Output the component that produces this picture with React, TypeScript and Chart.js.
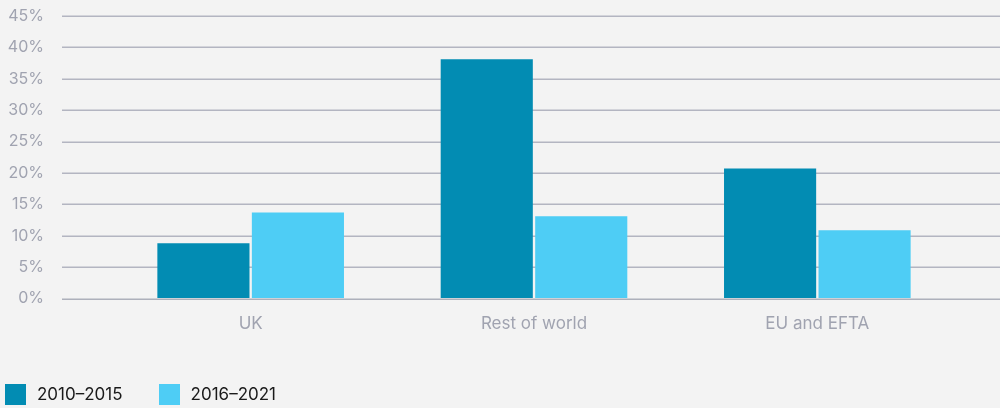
import React, { useEffect, useRef } from "react";
import { Chart, registerables } from "chart.js";

Chart.register(...registerables);

const categories = ["UK", "Rest of world", "EU and EFTA"];
const seriesLabels = ["2010–2015", "2016–2021"];
const series2010 = [8.8, 38.1, 20.7];
const series2016 = [13.7, 13.1, 10.9];
const seriesColors = ["#028cb3", "#4ecdf5"];
const yTickMax = 45;
const yTickStep = 5;

const GRID_COLOR = "#b3b5c1";
const TICK_COLOR = "#a0a3b0";
const FONT = "Inter, 'Noto Sans', sans-serif";

const extendedGrid = {
  id: "extendedGrid",
  beforeDatasetsDraw(chart: any) {
    const { ctx } = chart;
    const y = chart.scales.y;
    ctx.save();
    ctx.strokeStyle = GRID_COLOR;
    ctx.lineWidth = 1.5;
    y.ticks.forEach((t: any) => {
      if (t.value === 0) return;
      const py = Math.round(y.getPixelForValue(t.value)) + 0.25;
      ctx.beginPath();
      ctx.moveTo(62, py);
      ctx.lineTo(chart.width, py);
      ctx.stroke();
    });
    ctx.restore();
  },
  afterDatasetsDraw(chart: any) {
    const { ctx } = chart;
    const y = chart.scales.y;
    const py = Math.round(y.getPixelForValue(0)) + 0.25;
    ctx.save();
    ctx.strokeStyle = "rgba(160,163,176,0.85)";
    ctx.lineWidth = 1.5;
    ctx.beginPath();
    ctx.moveTo(62, py);
    ctx.lineTo(chart.width, py);
    ctx.stroke();
    ctx.restore();
  },
};

export default function App() {
  const ref = useRef<HTMLCanvasElement>(null);

  useEffect(() => {
    document.body.style.margin = "0";
    document.body.style.background = "#f3f3f3";
    const chart = new Chart(ref.current!, {
      type: "bar",
      data: {
        labels: categories,
        datasets: [
          {
            label: seriesLabels[0],
            data: series2010,
            backgroundColor: seriesColors[0],
            categoryPercentage: 0.667,
            barPercentage: 0.975,
          },
          {
            label: seriesLabels[1],
            data: series2016,
            backgroundColor: seriesColors[1],
            categoryPercentage: 0.667,
            barPercentage: 0.975,
          },
        ],
      },
      options: {
        animation: false,
        responsive: false,
        maintainAspectRatio: false,
        layout: { padding: { top: 16, right: 41, bottom: 59, left: 0 } },
        plugins: {
          legend: { display: false },
          tooltip: { enabled: false },
        },
        scales: {
          x: {
            grid: { display: false, drawTicks: false },
            border: { display: false },
            ticks: {
              color: TICK_COLOR,
              font: { family: FONT, size: 17 },
              padding: 15,
            },
          },
          y: {
            min: 0,
            max: yTickMax,
            grid: {
              display: true,
              drawOnChartArea: false,
              drawTicks: true,
              tickLength: 59,
              color: "rgba(0,0,0,0)",
            },
            border: { display: false },
            afterFit: (scale: any) => {
              scale.width = 109;
            },
            ticks: {
              stepSize: yTickStep,
              color: TICK_COLOR,
              font: { family: FONT, size: 16 },
              padding: 6,
              callback: (v: any) => v + "%",
            },
          },
        },
      },
      plugins: [extendedGrid],
    });
    return () => chart.destroy();
  }, []);

  return (
    <div style={{ position: "relative", width: 1000, height: 408, background: "#f3f3f3" }}>
      <canvas ref={ref} width={1000} height={408} style={{ display: "block" }} />
      <div
        style={{
          position: "absolute",
          left: 5,
          top: 384,
          display: "flex",
          fontFamily: FONT,
          fontSize: 17,
          color: "#1a1a1a",
          lineHeight: "21px",
        }}
      >
        {seriesLabels.map((l, i) => (
          <div key={l} style={{ display: "flex", alignItems: "center", marginRight: 36 }}>
            <span style={{ display: "inline-block", width: 21, height: 21, background: seriesColors[i], marginRight: 11 }} />
            <span>{l}</span>
          </div>
        ))}
      </div>
    </div>
  );
}
